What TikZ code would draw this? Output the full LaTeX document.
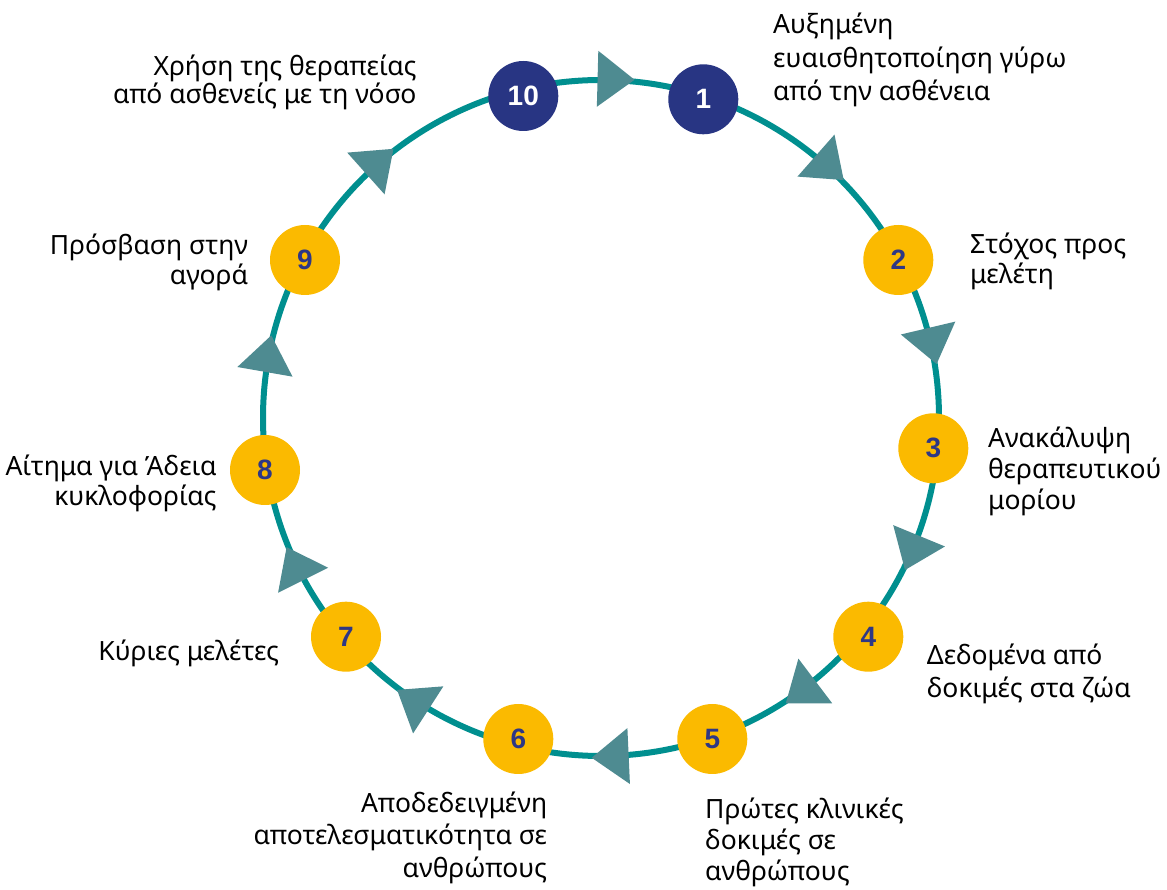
\documentclass[tikz,border=0pt]{standalone}
\usepackage{fontspec}
\setmainfont{Noto Sans}
\newfontfamily\stagefont{Liberation Sans}
\usetikzlibrary{calc}
\definecolor{ringteal}{RGB}{0,143,143}
\definecolor{tipteal}{RGB}{78,139,145}
\definecolor{stepyellow}{RGB}{251,186,0}
\definecolor{stepnavy}{RGB}{40,53,131}
\definecolor{numnavy}{RGB}{46,55,133}
\tikzset{
  flowtip/.pic={\fill[tipteal] (24.7,0) -- (-12.3,28) -- (-12.3,-28) -- cycle;}
}
\begin{document}
\begin{tikzpicture}[x=1pt,y=1pt,
  stage/.style={circle, minimum size=70pt, inner sep=0pt, fill=stepyellow,
    text=numnavy, font=\stagefont\bfseries\fontsize{28}{28}\selectfont},
  keystage/.style={stage, fill=stepnavy, text=white},
  caption/.style={inner sep=0pt, text=black, font=\fontsize{26.5}{#1}\selectfont},
  capl/.style={caption=#1, anchor=north west, align=left},
  capr/.style={caption=#1, anchor=north east, align=right},
  ring/.style={draw=ringteal, line width=6pt}
]
\useasboundingbox (0,0) rectangle (1167,889);

% the cycle
\coordinate (ctr) at (601,471);
\draw[ring] (ctr) circle[radius=338];

% direction marks along the cycle
\foreach \a in {88.5,48.6,13.3,-22.4,-52.9,-87.4,-122.7,-153.5,170.1,131.8}{
  \pic[rotate=\a-90] at ($(ctr)+(\a:339)$) {flowtip};
}

% stages
\node[keystage] (n1)  at (703.3,789.7) {1};
\node[stage]    (n2)  at (898.3,629)   {2};
\node[stage]    (n3)  at (933.3,440.7) {3};
\node[stage]    (n4)  at (868.3,252.3) {4};
\node[stage]    (n5)  at (712.3,150)   {5};
\node[stage]    (n6)  at (518.3,150)   {6};
\node[stage]    (n7)  at (346,252.3)   {7};
\node[stage]    (n8)  at (265,419)     {8};
\node[stage]    (n9)  at (305,629)     {9};
\node[keystage] (n10) at (523.3,793)   {10};

% captions
\node[capl=33.5] (l1) at (773,876) {Αυξημένη\\ευαισθητοποίηση γύρω\\από την ασθένεια};
\node[capl=30] (l2) at (970,656) {Στόχος προς\\μελέτη};
\node[capl=31] (l3) at (988,462.3) {Ανακάλυψη\\θεραπευτικού\\μορίου};
\node[capl=33] (l4) at (926.7,245.7) {Δεδομένα από\\δοκιμές στα ζώα};
\node[capl=31] (l5) at (705,91) {Πρώτες κλινικές\\δοκιμές σε\\ανθρώπους};
\node[capr=32.5] (l6) at (547.3,97.3) {Αποδεδειγμένη\\αποτελεσματικότητα σε\\ανθρώπους};
\node[capr=30] (l7) at (279.3,249) {Κύριες μελέτες};
\node[capr=30] (l8) at (216.7,434) {Αίτημα για Άδεια\\κυκλοφορίας};
\node[capr=30] (l9) at (248.3,655.7) {Πρόσβαση στην\\αγορά};
\node[capr=27.5] (l10) at (416.7,834) {Χρήση της θεραπείας\\από ασθενείς με τη νόσο};
\end{tikzpicture}
\end{document}
